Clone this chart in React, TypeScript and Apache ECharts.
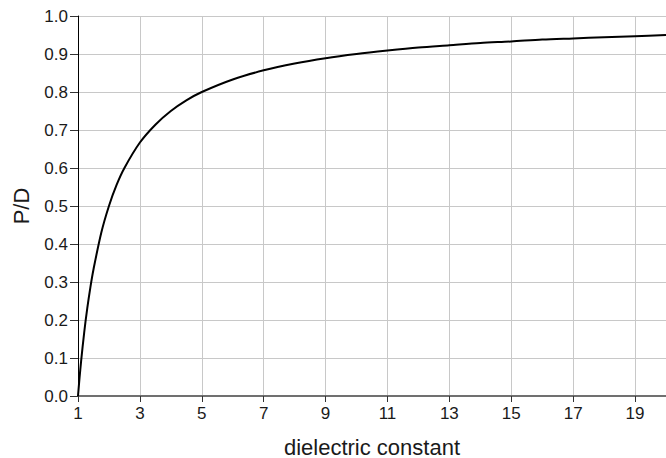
import React, { useEffect, useRef } from "react";
import * as echarts from "echarts";

// dielectric constant (x)
const epsilon = [1, 1.05, 1.1, 1.2, 1.3, 1.4, 1.5, 1.75, 2, 2.25, 2.5, 3, 3.5, 4, 4.5, 5, 6, 7, 8, 9, 10, 11, 12, 13, 14, 15, 16, 17, 18, 19, 20];
// P/D values
const pd = [0, 0.048, 0.091, 0.167, 0.231, 0.286, 0.333, 0.429, 0.5, 0.556, 0.6, 0.667, 0.714, 0.75, 0.778, 0.8, 0.833, 0.857, 0.875, 0.889, 0.9, 0.909, 0.917, 0.923, 0.929, 0.933, 0.938, 0.941, 0.944, 0.947, 0.95];
// the x axis starts at 1; the axis runs on (epsilon - 1) so ticks fall at 1, 3, 5, ...
const xOffset = 1;

export default function App() {
  const ref = useRef<HTMLDivElement>(null);
  useEffect(() => {
    if (!ref.current) return;
    const chart = echarts.init(ref.current, null, { renderer: "svg" });
    const font = "Liberation Sans, Arial, sans-serif";
    chart.setOption({
      animation: false,
      backgroundColor: "#ffffff",
      grid: { left: 78, top: 16, right: 0, bottom: 62, containLabel: false, outerBoundsMode: "none" },
      xAxis: {
        type: "value",
        min: 0,
        max: 19,
        interval: 2,
        name: "dielectric constant",
        nameLocation: "middle",
        nameGap: 40,
        nameTextStyle: { fontFamily: font, fontSize: 22, color: "#1a1a1a" },
        axisLine: { show: true, onZero: false, lineStyle: { color: "#707070", width: 2 } },
        axisTick: { show: true, length: 6, lineStyle: { color: "#333" } },
        axisLabel: {
          margin: 9,
          fontFamily: font,
          fontSize: 17,
          color: "#1a1a1a",
          showMaxLabel: false,
          formatter: (v: number) => (v >= 19 ? "" : String(v + xOffset)),
        },
        splitLine: { show: true, lineStyle: { color: "#c8c8c8", width: 1 } },
      },
      yAxis: {
        type: "value",
        min: 0,
        max: 1,
        interval: 0.1,
        name: "P/D",
        nameLocation: "middle",
        nameGap: 46,
        nameRotate: 90,
        nameTextStyle: { fontFamily: font, fontSize: 22, color: "#1a1a1a" },
        axisLine: { show: true, lineStyle: { color: "#000", width: 1 } },
        axisTick: { show: true, length: 8, lineStyle: { color: "#333" } },
        axisLabel: {
          margin: 10,
          fontFamily: font,
          fontSize: 17,
          color: "#1a1a1a",
          formatter: (v: number) => v.toFixed(1),
        },
        splitLine: { show: true, lineStyle: { color: "#c8c8c8", width: 1 } },
      },
      series: [
        {
          type: "line",
          data: epsilon.map((e, i) => [e - xOffset, pd[i]]),
          smooth: 0.3,
          showSymbol: false,
          lineStyle: { color: "#000", width: 2 },
          z: 5,
        },
      ],
    });
    return () => chart.dispose();
  }, []);
  return (
    <div
      ref={ref}
      style={{ position: "absolute", left: 0, top: 0, width: 666, height: 458, background: "#fff" }}
    />
  );
}
